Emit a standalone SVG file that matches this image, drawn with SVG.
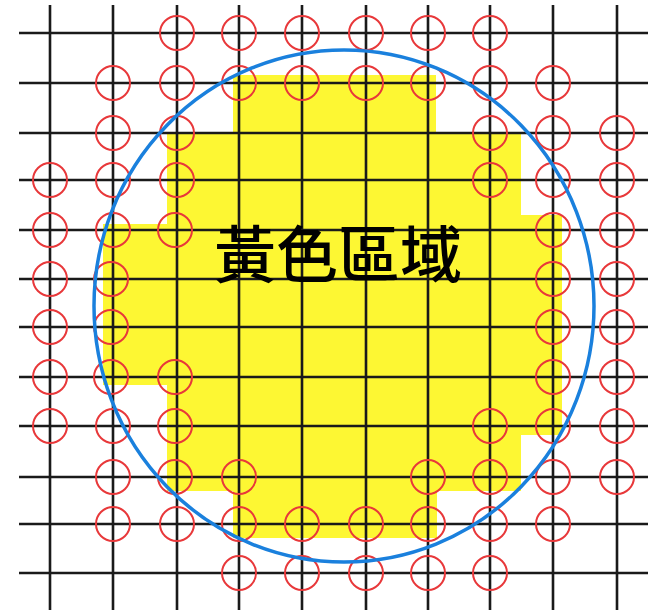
<svg xmlns="http://www.w3.org/2000/svg" xmlns:xlink="http://www.w3.org/1999/xlink" width="654" height="610" viewBox="0 0 654 610">
<style>
.grid line{stroke:#1a1a1a;stroke-width:2.6}
.rc{fill:none;stroke:#e8383a;stroke-width:2}
.lbl{font-family:"Noto Sans CJK TC","Noto Sans CJK SC",sans-serif;font-weight:500;font-size:62px;fill:#000}
</style>
<defs>
<circle id="c" class="rc" cx="0" cy="0" r="17"/>
</defs>
<rect width="654" height="610" fill="#fff"/>
<g id="yellow">
<polygon fill="#fdf733" points="233,75 436,75 436,133 521,133 521,215 562,215 562,435 521,435 521,491 437,491 437,538 233,538 233,491 167,491 167,385 103,385 103,224 167,224 167,133 233,133"/>
</g>
<g id="grid" class="grid">
<line x1="19" y1="33" x2="648" y2="33"/>
<line x1="19" y1="83" x2="648" y2="83"/>
<line x1="19" y1="133" x2="648" y2="133"/>
<line x1="19" y1="180" x2="648" y2="180"/>
<line x1="19" y1="230" x2="648" y2="230"/>
<line x1="19" y1="279" x2="648" y2="279"/>
<line x1="19" y1="327" x2="648" y2="327"/>
<line x1="19" y1="377" x2="648" y2="377"/>
<line x1="19" y1="426" x2="648" y2="426"/>
<line x1="19" y1="477" x2="648" y2="477"/>
<line x1="19" y1="524" x2="648" y2="524"/>
<line x1="19" y1="573" x2="648" y2="573"/>
<line x1="50" y1="5" x2="50" y2="610"/>
<line x1="113" y1="5" x2="113" y2="610"/>
<line x1="177" y1="5" x2="177" y2="610"/>
<line x1="239" y1="5" x2="239" y2="610"/>
<line x1="302" y1="5" x2="302" y2="610"/>
<line x1="366" y1="5" x2="366" y2="610"/>
<line x1="428" y1="5" x2="428" y2="610"/>
<line x1="490" y1="5" x2="490" y2="610"/>
<line x1="553" y1="5" x2="553" y2="610"/>
<line x1="617" y1="5" x2="617" y2="610"/>
</g>
<g id="marks">
<use xlink:href="#c" x="177" y="33"/><use xlink:href="#c" x="239" y="33"/><use xlink:href="#c" x="302" y="33"/><use xlink:href="#c" x="366" y="33"/><use xlink:href="#c" x="428" y="33"/><use xlink:href="#c" x="490" y="33"/>
<use xlink:href="#c" x="113" y="83"/><use xlink:href="#c" x="177" y="83"/><use xlink:href="#c" x="239" y="83"/><use xlink:href="#c" x="302" y="83"/><use xlink:href="#c" x="366" y="83"/><use xlink:href="#c" x="428" y="83"/><use xlink:href="#c" x="490" y="83"/><use xlink:href="#c" x="553" y="83"/>
<use xlink:href="#c" x="113" y="133"/><use xlink:href="#c" x="177" y="133"/><use xlink:href="#c" x="490" y="133"/><use xlink:href="#c" x="553" y="133"/><use xlink:href="#c" x="617" y="133"/>
<use xlink:href="#c" x="50" y="180"/><use xlink:href="#c" x="113" y="180"/><use xlink:href="#c" x="177" y="180"/><use xlink:href="#c" x="490" y="180"/><use xlink:href="#c" x="553" y="180"/><use xlink:href="#c" x="617" y="180"/>
<use xlink:href="#c" x="50" y="230"/><use xlink:href="#c" x="113" y="230"/><use xlink:href="#c" x="175" y="230"/><use xlink:href="#c" x="553" y="230"/><use xlink:href="#c" x="617" y="230"/>
<use xlink:href="#c" x="50" y="279"/><use xlink:href="#c" x="111" y="279"/><use xlink:href="#c" x="553" y="279"/><use xlink:href="#c" x="617" y="279"/>
<use xlink:href="#c" x="50" y="327"/><use xlink:href="#c" x="111" y="327"/><use xlink:href="#c" x="553" y="327"/><use xlink:href="#c" x="617" y="327"/>
<use xlink:href="#c" x="50" y="377"/><use xlink:href="#c" x="111" y="377"/><use xlink:href="#c" x="175" y="377"/><use xlink:href="#c" x="553" y="377"/><use xlink:href="#c" x="617" y="377"/>
<use xlink:href="#c" x="50" y="426"/><use xlink:href="#c" x="113" y="426"/><use xlink:href="#c" x="175" y="426"/><use xlink:href="#c" x="490" y="426"/><use xlink:href="#c" x="553" y="426"/><use xlink:href="#c" x="617" y="426"/>
<use xlink:href="#c" x="113" y="477"/><use xlink:href="#c" x="175" y="477"/><use xlink:href="#c" x="239" y="477"/><use xlink:href="#c" x="428" y="477"/><use xlink:href="#c" x="490" y="477"/><use xlink:href="#c" x="553" y="477"/><use xlink:href="#c" x="617" y="477"/>
<use xlink:href="#c" x="113" y="524"/><use xlink:href="#c" x="177" y="524"/><use xlink:href="#c" x="239" y="524"/><use xlink:href="#c" x="302" y="524"/><use xlink:href="#c" x="366" y="524"/><use xlink:href="#c" x="428" y="524"/><use xlink:href="#c" x="490" y="524"/><use xlink:href="#c" x="553" y="524"/>
<use xlink:href="#c" x="239" y="573"/><use xlink:href="#c" x="302" y="573"/><use xlink:href="#c" x="366" y="573"/><use xlink:href="#c" x="428" y="573"/><use xlink:href="#c" x="490" y="573"/>
</g>
<g id="boundary">
<ellipse cx="344" cy="306" rx="250" ry="256" fill="none" stroke="#1a80dd" stroke-width="3.5"/>
</g>
<g id="label">
<text class="lbl" x="338" y="278" text-anchor="middle">黃色區域</text>
</g>
</svg>
